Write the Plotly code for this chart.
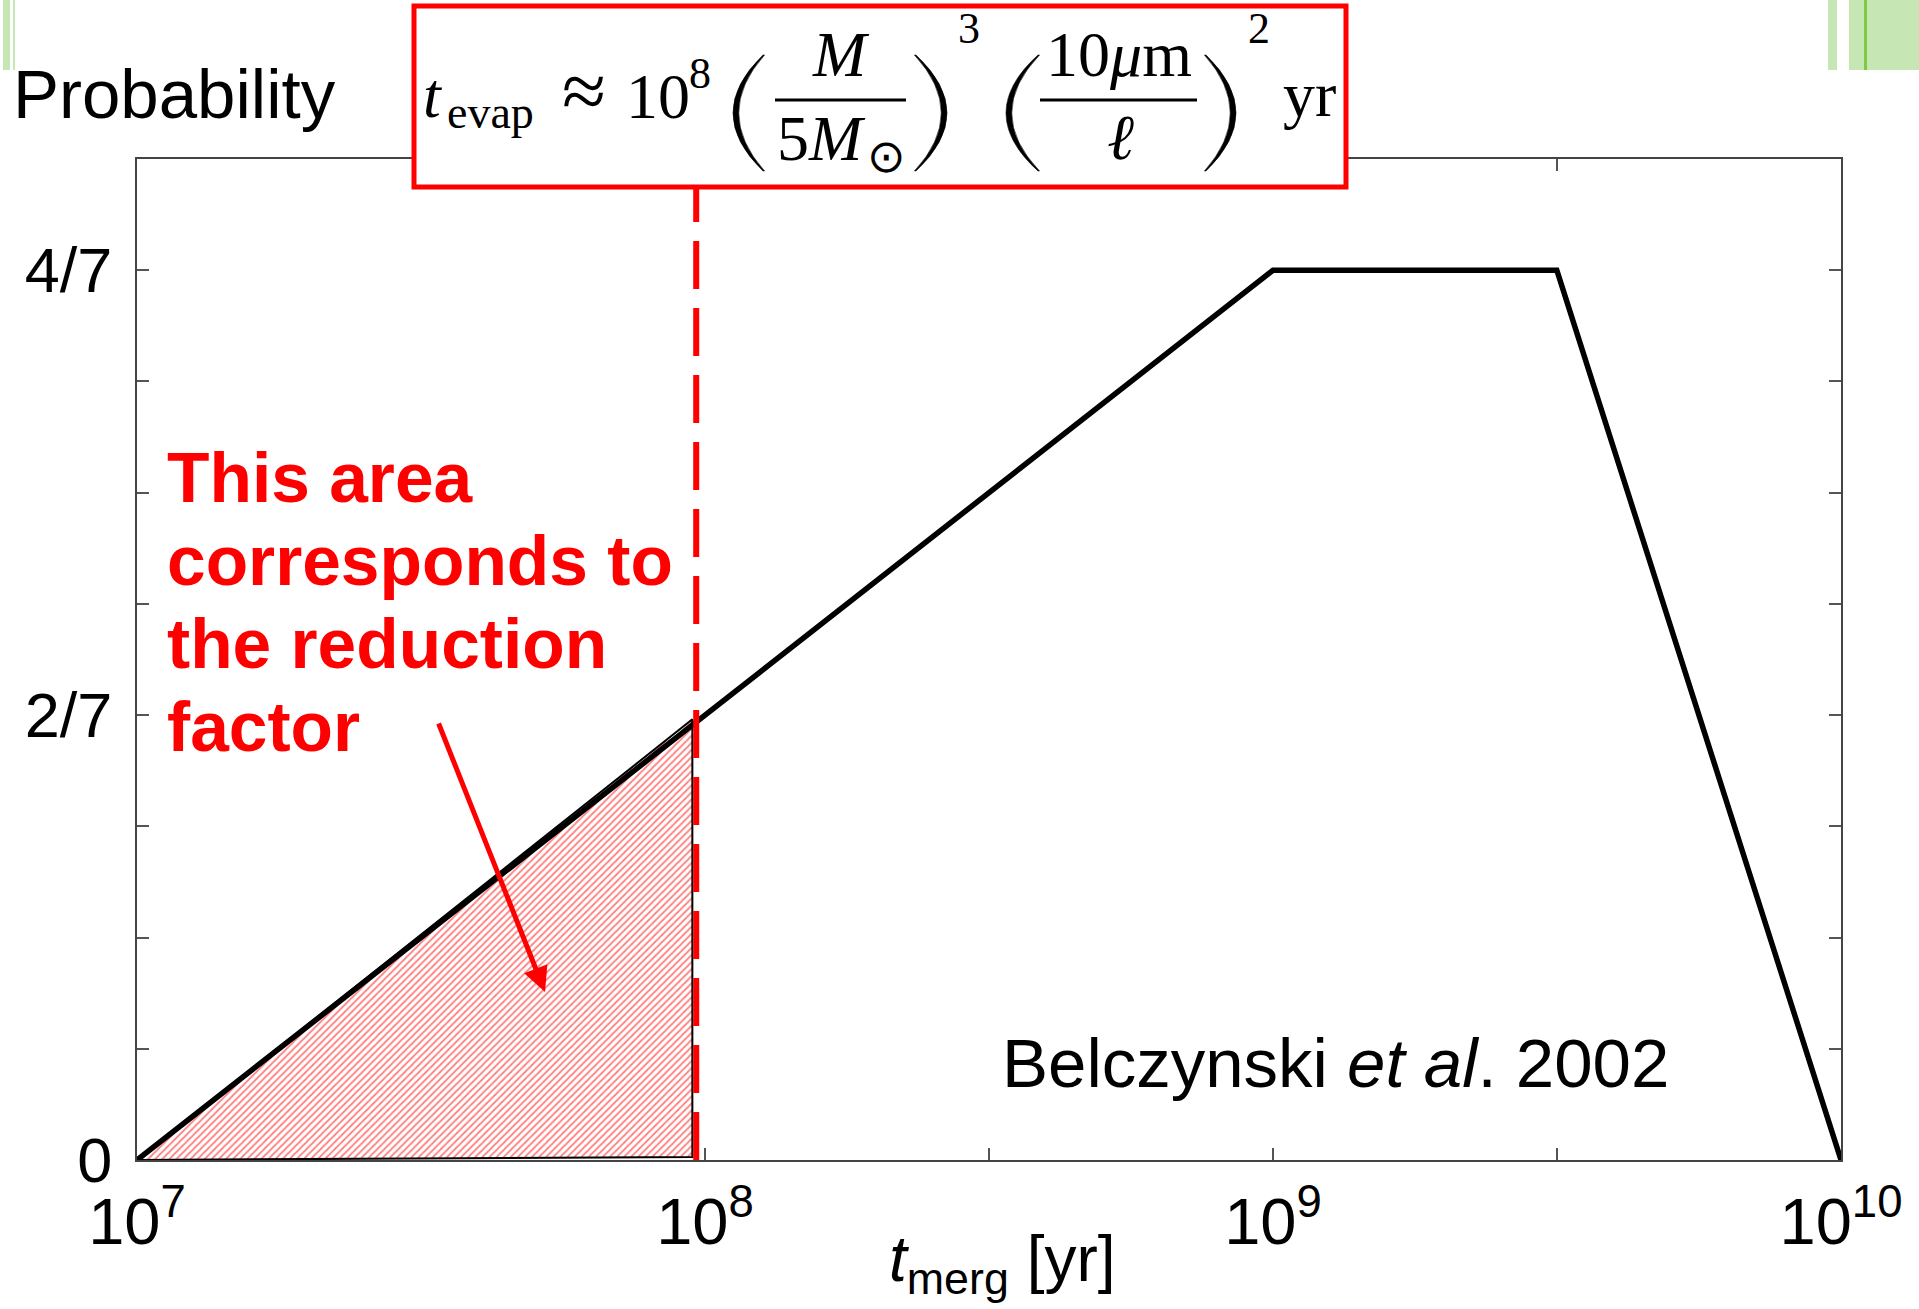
import plotly.graph_objects as go

W, H = 1919, 1309
L, R, T, B = 137, 1841, 159, 1160  # plot area in px

# ---- data ----
t_merg = [1e7, 1e9, 3.16e9, 1e10]
prob = [0, 4/7, 4/7, 0]
area_t = [1e7, 9.5e7, 9.5e7, 1e7]
area_p = [0, 0.283, 0.002, 0]
evap_t = [9.65e7, 9.65e7]
evap_p = [0, 9/14]
x_tickvals = [1e7, 1e8, 1e9, 1e10]
x_ticktext = ["10<sup>7</sup>", "10<sup>8</sup>", "10<sup>9</sup>", "10<sup>10</sup>"]
x_minor = [3.16e8, 3.16e9]
y_tickvals = [0, 2/7, 4/7]
y_ticktext = ["0", "2/7", "4/7"]
y_minor = [1/14, 2/14, 3/14, 5/14, 6/14, 7/14, 9/14]
note_lines = ["This area", "corresponds to", "the reduction", "factor"]


def px(x):
    return (x - L) / (R - L)


def py(y):
    return (B - y) / (B - T)


fig = go.Figure()

fig.add_trace(go.Scatter(
    x=area_t, y=area_p, mode="lines", fill="toself",
    line=dict(color="black", width=2),
    fillpattern=dict(shape="/", fgcolor="#ff0000", bgcolor="white", size=5, solidity=0.35),
    hoverinfo="skip", showlegend=False))
fig.add_trace(go.Scatter(
    x=t_merg, y=prob, mode="lines", line=dict(color="black", width=5.5),
    hoverinfo="skip", showlegend=False))
fig.add_trace(go.Scatter(
    x=evap_t, y=evap_p, mode="lines",
    line=dict(color="#ff0000", width=6, dash="48px,19px"),
    hoverinfo="skip", showlegend=False, cliponaxis=False))

tick_style = dict(ticks="inside", ticklen=12, tickwidth=2, tickcolor="#555")
axis_common = dict(showgrid=False, zeroline=False, showline=True, linecolor="#444",
                   linewidth=2, mirror="ticks", **tick_style)
fig.update_xaxes(type="log", range=[7, 10], tickvals=x_tickvals, ticktext=x_ticktext,
                 minor=dict(tickvals=x_minor, **tick_style),
                 tickfont=dict(size=65, family="Liberation Sans", color="black"),
                 ticklabelstandoff=4, **axis_common)
fig.update_yaxes(range=[0, 9/14], tickvals=y_tickvals, ticktext=y_ticktext,
                 minor=dict(tickvals=y_minor, **tick_style),
                 tickfont=dict(size=63, family="Liberation Sans", color="black"),
                 ticklabelstandoff=10, **axis_common)

fig.update_layout(
    width=W, height=H, margin=dict(l=L, r=W - R, t=T, b=H - B, pad=0),
    paper_bgcolor="white", plot_bgcolor="white",
    font=dict(family="Liberation Sans", color="black"),
)


def txt(s, x, baseline, size, family="Liberation Sans", color="black", xanchor="left", k=0.34):
    yc = baseline - k * size
    fig.add_annotation(text=s, x=px(x), y=py(yc), xref="paper", yref="paper",
                       xanchor=xanchor, yanchor="middle", showarrow=False, borderpad=0,
                       font=dict(size=size, family=family, color=color))


def paren(xend, apex, ytop, ybot, thick, sign):
    ym = (ytop + ybot) / 2
    cxo = 2 * apex - xend
    cxi = 2 * (apex + sign * thick) - xend
    xe2 = xend + sign * 1.5
    path = (f"M {px(xend)},{py(ytop)} Q {px(cxo)},{py(ym)} {px(xend)},{py(ybot)} "
            f"L {px(xe2)},{py(ybot)} Q {px(cxi)},{py(ym)} {px(xe2)},{py(ytop)} Z")
    fig.add_shape(type="path", xref="paper", yref="paper", path=path,
                  fillcolor="black", line=dict(width=0.6, color="black"), layer="above")


# decorative green bars
greens = [(3, 10, "#c6e6b4"), (13, 15, "#c6e6b4"), (1828, 1837, "#c6e6b4"),
          (1849, 1919, "#c6e6b4"), (1864, 1867, "#7ccb48")]
for x0, x1, c in greens:
    fig.add_shape(type="rect", xref="paper", yref="paper", x0=px(x0), x1=px(x1),
                  y0=py(70), y1=py(0), fillcolor=c, line=dict(width=0), layer="above")

# formula box
fig.add_shape(type="rect", xref="paper", yref="paper", x0=px(414), x1=px(1346),
              y0=py(187), y1=py(6), fillcolor="white", line=dict(color="#ff0000", width=5),
              layer="above")
for x0, x1 in [(775, 906), (1040, 1197)]:
    fig.add_shape(type="line", xref="paper", yref="paper", x0=px(x0), x1=px(x1),
                  y0=py(100), y1=py(100), line=dict(color="black", width=3), layer="above")

paren(763, 733, 55, 171, 5, 1)
paren(916, 947, 55, 171, 5, -1)
paren(1038, 1006, 55, 171, 5, 1)
paren(1206, 1236, 55, 171, 5, -1)

SER = "Liberation Serif"
txt("<i>t</i>", 422, 117, 64, SER)
txt("evap", 446, 128, 46, SER)
txt("≈", 584, 118, 80, SER, xanchor="center")
txt("10", 625, 118, 64, SER)
txt("8", 688, 88, 44, SER)
txt("<i>M</i>", 841, 76, 64, SER, xanchor="center")
txt("5<i>M</i>", 776, 160, 64, SER)
txt("⊙", 886, 172, 46, SER, xanchor="center")
txt("3", 957, 43, 44, SER)
txt("10<i>μ</i>m", 1119, 76, 64, SER, xanchor="center")
txt("<i>ℓ</i>", 1120, 159, 64, SER, xanchor="center")
txt("2", 1247, 43, 44, SER)
txt("yr", 1282, 116, 64, SER)

# other texts
txt("Probability", 12, 118, 69)
txt("Belczynski <i>et al</i>. 2002", 1001, 1087, 69)
txt("<i>t</i><sub>merg</sub> [yr]", 1003, 1285, 64, xanchor="center")
for i, line in enumerate(note_lines):
    txt("<b>" + line + "</b>", 166, 502 + 83 * i, 69.5, color="#ff0000")

# arrow
fig.add_annotation(x=px(545), y=py(992), xref="paper", yref="paper", text="",
                   showarrow=True, ax=438 - 545, ay=722 - 992, axref="pixel", ayref="pixel",
                   arrowcolor="#ff0000", arrowwidth=5, arrowhead=2, arrowsize=1)

fig.write_html("out.html")
